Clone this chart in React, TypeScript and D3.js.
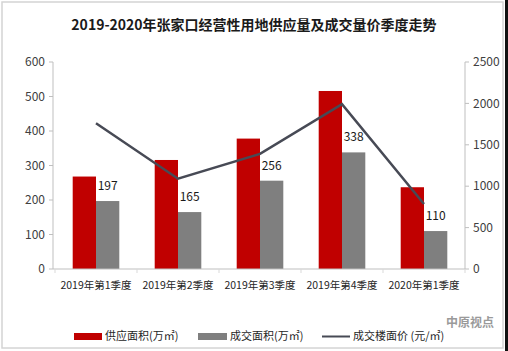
import * as d3 from 'd3'

const categories = ['2019年第1季度', '2019年第2季度', '2019年第3季度', '2019年第4季度', '2020年第1季度']
const supply = [268, 316, 378, 516, 237]
const deal = [197, 165, 256, 338, 110]
const price = [1760, 1090, 1390, 1990, 785]
const leftTicks = [0, 100, 200, 300, 400, 500, 600]
const rightTicks = [0, 500, 1000, 1500, 2000, 2500]

const W = 508
const H = 351
const FONT = '"Noto Sans CJK SC", "Noto Sans", sans-serif'
const RED = '#c00000'
const GRAY = '#7f7f7f'
const LINE = '#474a55'

export default function App() {
  const margin = { top: 62, right: 43, bottom: 82, left: 55 }
  const x = d3.scaleBand().domain(categories).range([margin.left, W - margin.right])
  const yL = d3.scaleLinear().domain([0, 600]).range([H - margin.bottom, margin.top])
  const yR = d3.scaleLinear().domain([0, 2500]).range([H - margin.bottom, margin.top])
  const barW = 23.3
  const cx = (c: string) => (x(c) ?? 0) + x.bandwidth() / 2

  const line = d3.line<number>()
    .x((_, i) => cx(categories[i]))
    .y(d => yR(d))

  const base = yL(0)
  const axisL = margin.left - 2
  const axisR = W - margin.right

  return (
    <svg width={W} height={H} style={{ position: 'absolute', left: 0, top: 0 }} fontFamily={FONT}>
      <rect x={0} y={0} width={W} height={H} fill="#fff" />
      <rect x={2} y={2} width={501} height={346} fill="none" stroke="#d4d4d4" strokeWidth={1.5} />
      <rect x={505} y={0} width={3} height={H} fill="#111" />

      <text x={254} y={30} textAnchor="middle" fontSize={14} fontWeight="bold" fill="#1a1a1a">
        2019-2020年张家口经营性用地供应量及成交量价季度走势
      </text>

      {/* left axis */}
      <line x1={axisL} x2={axisL} y1={yL(600)} y2={base} stroke="#bfbfbf" />
      {leftTicks.map(t => (
        <g key={t}>
          <line x1={axisL - 4} x2={axisL} y1={yL(t)} y2={yL(t)} stroke="#bfbfbf" />
          <text x={axisL - 8} y={yL(t)} dy="0.35em" textAnchor="end" fontSize={12} fill="#404040">{t}</text>
        </g>
      ))}

      {/* right axis */}
      <line x1={axisR} x2={axisR} y1={yR(2500)} y2={base} stroke="#bfbfbf" />
      {rightTicks.map(t => (
        <g key={t}>
          <line x1={axisR} x2={axisR + 4} y1={yR(t)} y2={yR(t)} stroke="#bfbfbf" />
          <text x={axisR + 8} y={yR(t)} dy="0.35em" textAnchor="start" fontSize={12} fill="#404040">{t}</text>
        </g>
      ))}

      {/* bars */}
      {categories.map((c, i) => (
        <g key={c}>
          <rect x={cx(c) - barW} y={yL(supply[i])} width={barW} height={base - yL(supply[i])} fill={RED} />
          <rect x={cx(c)} y={yL(deal[i])} width={barW} height={base - yL(deal[i])} fill={GRAY} />
          <text x={cx(c) + barW / 2} y={yL(deal[i]) - 11} textAnchor="middle" fontSize={12} fill="#1a1a1a">{deal[i]}</text>
        </g>
      ))}

      {/* bottom axis */}
      <line x1={axisL} x2={axisR} y1={base} y2={base} stroke="#bfbfbf" />
      {categories.map(c => (
        <line key={c} x1={x(c)} x2={x(c)} y1={base} y2={base + 4} stroke="#d9d9d9" />
      ))}
      <line x1={axisR} x2={axisR} y1={base} y2={base + 4} stroke="#d9d9d9" />
      {categories.map(c => (
        <text key={c} x={cx(c)} y={base + 20} textAnchor="middle" fontSize={10.5} fill="#262626">{c}</text>
      ))}

      <path d={line(price) ?? ''} fill="none" stroke={LINE} strokeWidth={2.5} />

      {/* legend */}
      <g fontSize={11} fill="#262626">
        <rect x={74} y={333} width={28} height={7} fill={RED} />
        <text x={105} y={336.5} dy="0.35em">供应面积(万㎡)</text>
        <rect x={198} y={333} width={29} height={7} fill={GRAY} />
        <text x={230} y={336.5} dy="0.35em">成交面积(万㎡)</text>
        <line x1={322} x2={350} y1={336.5} y2={336.5} stroke={LINE} strokeWidth={2} />
        <text x={353} y={336.5} dy="0.35em">成交楼面价 (元/㎡)</text>
      </g>
      <text x={446} y={327} fontSize={12} fill="#9a9a9a" fontWeight="bold">中原视点</text>
    </svg>
  )
}
